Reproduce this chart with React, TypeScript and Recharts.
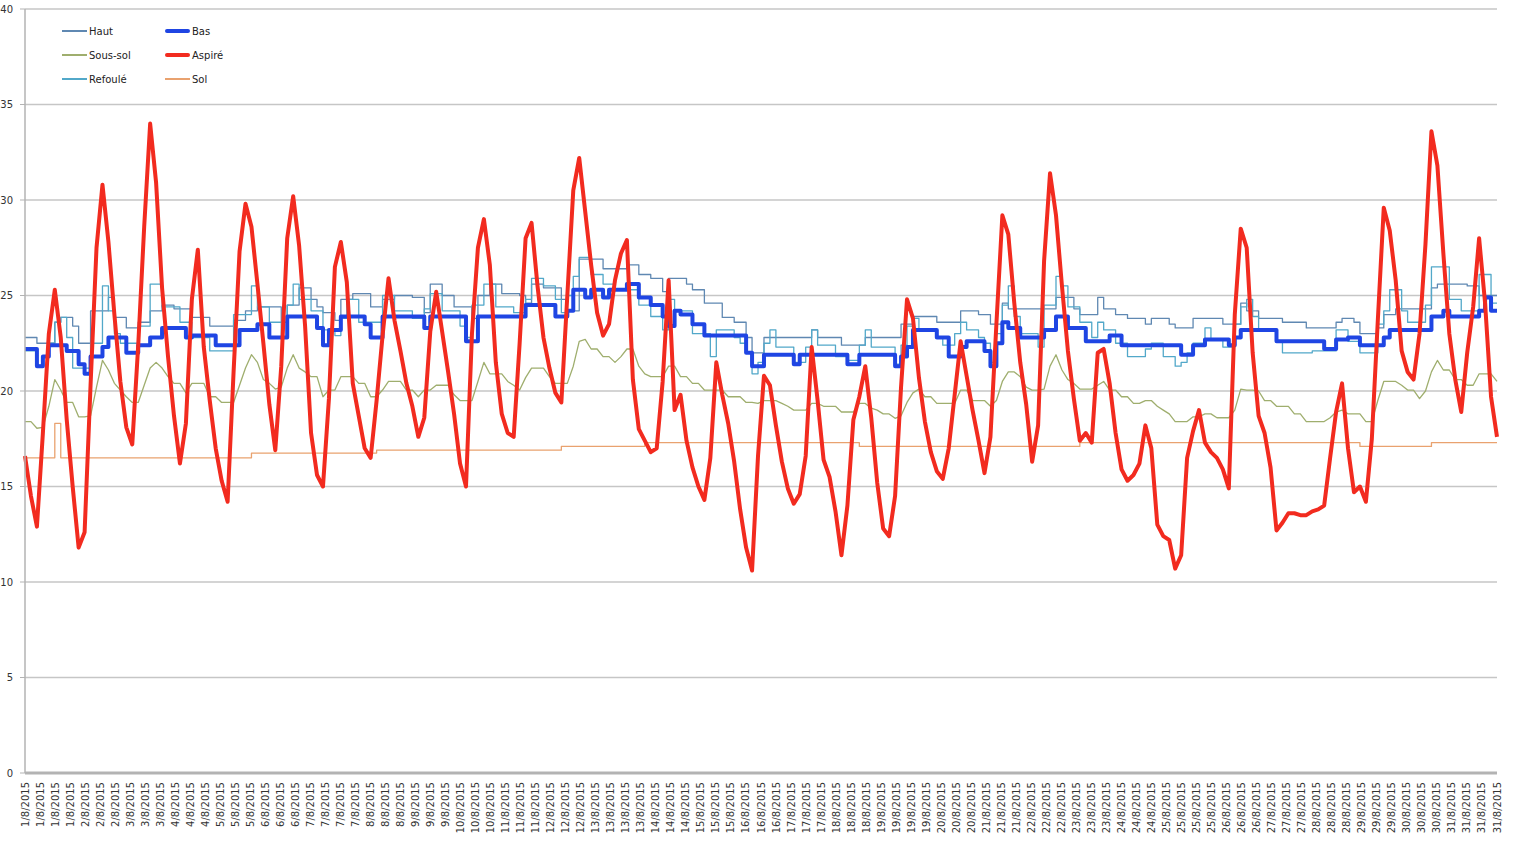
import React from 'react';
import { LineChart, Line, XAxis, YAxis, CartesianGrid } from 'recharts';

// relevés toutes les 3 heures, 1/8 -> 31/8 (8 valeurs par jour, une ligne = un jour)
const haut = [
  22.8, 22.8, 22.5, 22.5, 22.5, 23.6, 23.85, 23.85,
  23.4, 22.5, 22.5, 24.2, 24.2, 24.2, 24.9, 23.85,
  23.85, 23.3, 23.3, 23.6, 23.6, 24.2, 24.2, 24.5,
  24.5, 24.3, 24.3, 24.3, 23.85, 23.85, 23.85, 23.4,
  23.4, 23.4, 23.4, 23.7, 23.7, 24.2, 24.2, 24.4,
  24.4, 24.4, 24.4, 23.6, 24.5, 24.5, 25.4, 25.4,
  24.8, 24.4, 24.1, 24.1, 23.7, 24.8, 24.8, 25.1,
  25.1, 25.1, 24.4, 24.4, 24.8, 24.8, 25.0, 25.0,
  25.0, 24.9, 24.9, 24.1, 25.6, 25.6, 25.0, 25.0,
  24.4, 24.4, 24.4, 23.8, 25.0, 25.0, 25.6, 25.6,
  25.1, 25.1, 25.1, 25.0, 24.6, 25.6, 25.6, 25.4,
  25.4, 25.4, 24.8, 24.2, 24.2, 26.9, 26.9, 26.9,
  26.9, 26.4, 26.4, 26.4, 26.4, 26.6, 26.6, 26.1,
  26.1, 25.9, 25.9, 25.2, 25.9, 25.9, 25.9, 25.6,
  25.3, 25.3, 24.6, 24.6, 24.6, 23.85, 23.85, 23.6,
  23.6, 22.8, 22.0, 22.0, 22.8, 22.8, 22.8, 22.8,
  22.8, 22.8, 22.8, 22.8, 23.2, 22.8, 22.8, 22.8,
  22.8, 22.4, 22.4, 22.4, 22.4, 22.8, 22.8, 22.8,
  22.8, 22.8, 22.8, 23.5, 23.5, 23.9, 23.9, 23.9,
  23.9, 23.6, 23.6, 23.6, 23.6, 24.2, 24.2, 24.2,
  24.0, 24.0, 23.5, 23.5, 24.6, 24.3, 24.3, 24.3,
  24.3, 24.3, 24.3, 24.3, 24.3, 24.9, 24.9, 24.9,
  24.3, 24.0, 24.0, 24.0, 24.9, 24.3, 24.3, 24.0,
  24.0, 23.8, 23.8, 23.8, 23.5, 23.8, 23.8, 23.8,
  23.5, 23.3, 23.3, 23.3, 23.8, 23.8, 23.8, 23.8,
  23.8, 23.5, 23.5, 23.5, 24.6, 24.2, 24.2, 23.8,
  23.8, 23.8, 23.8, 23.6, 23.6, 23.6, 23.6, 23.3,
  23.3, 23.3, 23.3, 23.3, 23.6, 23.8, 23.8, 23.6,
  23.0, 23.0, 23.0, 23.3, 24.0, 24.0, 24.3, 24.3,
  24.3, 24.3, 24.3, 24.3, 25.4, 25.6, 25.6, 25.6,
  25.6, 25.6, 25.5, 25.5, 25.0, 25.0, 25.0, 25.0,
];

const bas = [
  22.2, 22.2, 21.3, 21.8, 22.4, 22.4, 22.4, 22.1,
  22.1, 21.4, 20.9, 21.8, 21.8, 22.3, 22.8, 22.8,
  22.8, 22.0, 22.0, 22.4, 22.4, 22.8, 22.8, 23.3,
  23.3, 23.3, 23.3, 22.8, 22.9, 22.9, 22.9, 22.9,
  22.4, 22.4, 22.4, 22.4, 23.2, 23.2, 23.2, 23.5,
  23.5, 22.8, 22.8, 22.8, 23.9, 23.9, 23.9, 23.9,
  23.9, 23.3, 22.4, 23.2, 23.2, 23.9, 23.9, 23.9,
  23.9, 23.5, 22.8, 22.8, 23.9, 23.9, 23.9, 23.9,
  23.9, 23.9, 23.9, 23.3, 23.9, 23.9, 23.9, 23.9,
  23.9, 23.9, 22.6, 22.6, 23.9, 23.9, 23.9, 23.9,
  23.9, 23.9, 23.9, 23.9, 24.5, 24.5, 24.5, 24.5,
  24.5, 23.9, 23.9, 24.2, 25.3, 25.3, 24.9, 25.3,
  25.3, 24.9, 25.3, 25.3, 25.3, 25.6, 25.6, 24.9,
  24.9, 24.5, 24.5, 23.9, 23.4, 24.2, 24.0, 24.0,
  23.5, 23.5, 22.9, 22.9, 22.9, 22.9, 22.9, 22.9,
  22.9, 22.0, 21.3, 21.3, 21.9, 21.9, 21.9, 21.9,
  21.9, 21.4, 21.9, 21.9, 21.9, 21.9, 21.9, 21.9,
  21.9, 21.9, 21.4, 21.4, 21.9, 21.9, 21.9, 21.9,
  21.9, 21.9, 21.3, 21.8, 22.3, 23.2, 23.2, 23.2,
  23.2, 22.8, 22.8, 21.8, 21.8, 22.3, 22.6, 22.6,
  22.6, 22.1, 21.3, 22.5, 23.6, 23.3, 23.3, 22.8,
  22.8, 22.8, 22.8, 23.2, 23.2, 23.9, 23.9, 23.3,
  23.3, 23.3, 22.6, 22.6, 22.6, 22.6, 22.9, 22.9,
  22.4, 22.4, 22.4, 22.4, 22.4, 22.4, 22.4, 22.4,
  22.4, 22.4, 21.9, 21.9, 22.4, 22.4, 22.7, 22.7,
  22.7, 22.7, 22.4, 22.8, 23.2, 23.2, 23.2, 23.2,
  23.2, 23.2, 22.6, 22.6, 22.6, 22.6, 22.6, 22.6,
  22.6, 22.6, 22.2, 22.2, 22.7, 22.7, 22.8, 22.8,
  22.4, 22.4, 22.4, 22.4, 22.8, 23.2, 23.2, 23.2,
  23.2, 23.2, 23.2, 23.2, 23.9, 23.9, 24.2, 23.9,
  23.9, 23.9, 23.9, 23.9, 24.2, 24.9, 24.2, 24.2,
];

const sousSol = [
  18.4, 18.4, 18.05, 18.1, 19.2, 20.6, 20.05, 19.4,
  19.4, 18.65, 18.65, 18.7, 20.2, 21.6, 21.1, 20.4,
  20.05, 19.7, 19.4, 19.4, 20.3, 21.2, 21.5, 21.2,
  20.75, 20.4, 20.4, 19.9, 20.4, 20.4, 20.4, 19.7,
  19.7, 19.4, 19.4, 19.4, 20.3, 21.2, 21.9, 21.5,
  20.6, 20.4, 20.1, 20.2, 21.2, 21.9, 21.2, 21.0,
  20.75, 20.75, 19.7, 20.05, 20.05, 20.75, 20.75, 20.75,
  20.4, 20.4, 19.7, 19.7, 20.05, 20.5, 20.5, 20.5,
  20.05, 20.05, 19.7, 20.05, 20.05, 20.3, 20.3, 20.3,
  19.8, 19.5, 19.5, 19.5, 20.5, 21.5, 20.9, 20.9,
  20.9, 20.5, 20.3, 20.05, 20.7, 21.2, 21.2, 21.2,
  20.75, 20.4, 20.4, 20.4, 21.3, 22.6, 22.7, 22.2,
  22.2, 21.8, 21.8, 21.5, 21.8, 22.2, 22.2, 21.3,
  20.9, 20.75, 20.75, 20.75, 21.3, 21.3, 20.75, 20.75,
  20.4, 20.4, 20.05, 20.05, 20.05, 20.05, 19.7, 19.7,
  19.7, 19.4, 19.4, 19.35, 19.5, 19.5, 19.5, 19.35,
  19.2, 19.0, 19.0, 19.0, 19.35, 19.35, 19.2, 19.2,
  19.2, 18.9, 18.9, 18.9, 19.35, 19.35, 19.1, 19.0,
  18.8, 18.8, 18.57, 18.7, 19.4, 19.9, 20.1, 19.7,
  19.7, 19.35, 19.35, 19.35, 19.35, 20.05, 20.05, 19.5,
  19.5, 19.5, 19.2, 19.5, 20.5, 21.0, 21.0, 20.75,
  20.2, 20.05, 20.05, 20.1, 21.3, 21.9, 21.1, 20.6,
  20.4, 20.1, 20.1, 20.1, 20.3, 20.5, 20.05, 20.05,
  19.7, 19.7, 19.35, 19.35, 19.5, 19.5, 19.2, 19.0,
  18.8, 18.4, 18.4, 18.4, 18.65, 18.65, 18.8, 18.8,
  18.6, 18.6, 18.6, 19.0, 20.1, 20.05, 20.05, 20.0,
  19.5, 19.5, 19.2, 19.2, 19.2, 18.8, 18.8, 18.4,
  18.4, 18.4, 18.4, 18.6, 18.9, 19.0, 18.8, 18.8,
  18.8, 18.4, 18.4, 19.5, 20.5, 20.5, 20.5, 20.3,
  20.05, 20.05, 19.6, 20.0, 21.0, 21.6, 21.1, 21.1,
  20.6, 20.6, 20.3, 20.3, 20.9, 20.9, 20.9, 20.5,
];

const aspire = [
  16.6, 14.5, 12.9, 17.8, 23.0, 25.3, 22.8, 18.5,
  15.0, 11.8, 12.6, 20.3, 27.5, 30.8, 27.8, 24.0,
  20.5, 18.1, 17.2, 22.4, 28.6, 34.0, 30.9, 25.4,
  21.8, 18.7, 16.2, 18.3, 24.8, 27.4, 22.3, 19.5,
  17.0, 15.3, 14.2, 21.0, 27.3, 29.8, 28.6, 25.6,
  22.5, 19.3, 16.9, 21.3, 28.0, 30.2, 27.6, 23.4,
  17.8, 15.6, 15.0, 19.6, 26.5, 27.8, 25.7, 20.4,
  18.7, 17.0, 16.5, 19.5, 22.9, 25.9, 23.7, 22.1,
  20.4, 19.2, 17.6, 18.6, 23.1, 25.2, 23.1, 21.0,
  18.8, 16.2, 15.0, 23.0, 27.5, 29.0, 26.6, 21.5,
  18.8, 17.8, 17.6, 22.5, 28.0, 28.8, 25.5, 22.8,
  21.2, 19.9, 19.4, 25.0, 30.5, 32.2, 29.4, 26.6,
  24.1, 22.9, 23.5, 25.8, 27.2, 27.9, 20.6, 18.0,
  17.4, 16.8, 17.0, 20.5, 25.8, 19.0, 19.8, 17.4,
  16.0, 15.0, 14.3, 16.5, 21.5, 19.8, 18.3, 16.3,
  13.8, 11.8, 10.6, 16.6, 20.8, 20.3, 18.2, 16.3,
  14.9, 14.1, 14.6, 16.6, 22.3, 19.5, 16.4, 15.5,
  13.7, 11.4, 14.0, 18.5, 19.7, 21.3, 18.6, 15.2,
  12.8, 12.4, 14.5, 20.2, 24.8, 23.8, 20.7, 18.4,
  16.8, 15.8, 15.4, 17.0, 19.8, 22.6, 20.8, 19.0,
  17.4, 15.7, 17.6, 23.5, 29.2, 28.2, 24.6, 21.5,
  19.3, 16.3, 18.2, 26.8, 31.4, 29.2, 25.5, 22.1,
  19.6, 17.4, 17.8, 17.3, 22.0, 22.2, 20.4, 17.8,
  15.9, 15.3, 15.6, 16.2, 18.2, 17.0, 13.0, 12.4,
  12.2, 10.7, 11.4, 16.5, 17.9, 19.0, 17.3, 16.8,
  16.5, 15.9, 14.9, 24.0, 28.5, 27.5, 22.0, 18.7,
  17.8, 16.0, 12.7, 13.1, 13.6, 13.6, 13.5, 13.5,
  13.7, 13.8, 14.0, 16.5, 18.9, 20.4, 17.0, 14.7,
  15.0, 14.2, 17.5, 23.7, 29.6, 28.4, 25.8, 22.1,
  21.0, 20.6, 23.0, 27.7, 33.6, 31.8, 27.2, 23.0,
  20.6, 18.9, 22.0, 24.4, 28.0, 24.6, 19.7, 17.6,
];

const refoule = [
  22.1, 22.1, 21.35, 21.8, 22.5, 23.6, 23.85, 22.8,
  21.2, 21.2, 21.2, 22.5, 22.5, 25.5, 24.2, 23.0,
  22.5, 22.5, 22.5, 23.4, 23.4, 25.6, 25.6, 24.4,
  24.4, 24.4, 23.6, 23.6, 22.8, 22.8, 22.8, 22.1,
  22.1, 22.1, 22.1, 24.0, 24.0, 24.0, 25.5, 24.4,
  24.4, 23.6, 23.6, 22.8, 24.5, 25.6, 24.8, 24.8,
  24.2, 24.2, 23.2, 23.2, 22.9, 23.8, 24.8, 24.8,
  23.6, 23.6, 23.6, 23.6, 25.0, 25.0, 24.2, 24.2,
  24.2, 23.8, 23.8, 24.3, 25.1, 25.1, 24.2, 24.2,
  24.2, 23.4, 22.8, 24.5, 24.5, 25.6, 25.6, 24.4,
  24.4, 24.4, 24.1, 24.1, 24.8, 25.9, 25.9, 25.5,
  25.5, 24.8, 24.1, 25.0, 26.0, 27.0, 27.0, 26.1,
  26.1, 25.6, 25.6, 25.3, 25.3, 25.3, 25.3, 24.5,
  24.5, 23.9, 23.9, 23.2, 24.8, 24.2, 24.2, 24.2,
  23.0, 23.0, 23.0, 21.8, 23.2, 23.2, 23.2, 22.8,
  22.5, 22.0, 20.9, 21.5, 22.5, 23.2, 22.3, 22.3,
  22.3, 21.5, 21.5, 22.3, 23.2, 22.4, 22.4, 22.4,
  21.8, 21.8, 21.6, 21.6, 22.4, 23.2, 22.3, 22.3,
  22.3, 22.3, 21.4, 22.4, 23.4, 23.8, 23.2, 23.2,
  23.2, 22.8, 22.4, 22.4, 23.0, 23.6, 23.2, 23.2,
  22.8, 22.5, 21.5, 23.0, 24.5, 25.5, 23.9, 23.0,
  23.0, 23.0, 22.3, 24.5, 24.5, 26.0, 25.5, 24.4,
  24.4, 23.6, 23.6, 22.8, 23.6, 23.2, 23.2, 22.5,
  22.5, 21.8, 21.8, 21.8, 22.2, 22.5, 22.5, 21.8,
  21.8, 21.3, 21.5, 22.0, 22.5, 22.5, 23.3, 22.7,
  22.7, 22.3, 22.3, 23.5, 24.4, 24.8, 23.9, 23.2,
  23.2, 23.2, 22.6, 22.0, 22.0, 22.0, 22.0, 22.0,
  22.1, 22.1, 22.1, 22.1, 23.2, 23.2, 22.6, 22.6,
  22.0, 22.0, 22.0, 23.5, 24.2, 25.3, 25.3, 24.2,
  23.6, 23.6, 23.6, 24.5, 26.5, 26.5, 26.5, 24.8,
  24.8, 24.2, 24.2, 24.2, 26.1, 26.1, 24.6, 24.6,
];

const sol = [
  16.5, 16.5, 16.5, 16.5, 16.5, 18.3, 16.5, 16.5,
  16.5, 16.5, 16.5, 16.5, 16.5, 16.5, 16.5, 16.5,
  16.5, 16.5, 16.5, 16.5, 16.5, 16.5, 16.5, 16.5,
  16.5, 16.5, 16.5, 16.5, 16.5, 16.5, 16.5, 16.5,
  16.5, 16.5, 16.5, 16.5, 16.5, 16.5, 16.75, 16.75,
  16.75, 16.75, 16.75, 16.75, 16.75, 16.75, 16.75, 16.75,
  16.75, 16.75, 16.75, 16.75, 16.75, 16.75, 16.75, 16.75,
  16.75, 16.75, 16.75, 16.9, 16.9, 16.9, 16.9, 16.9,
  16.9, 16.9, 16.9, 16.9, 16.9, 16.9, 16.9, 16.9,
  16.9, 16.9, 16.9, 16.9, 16.9, 16.9, 16.9, 16.9,
  16.9, 16.9, 16.9, 16.9, 16.9, 16.9, 16.9, 16.9,
  16.9, 16.9, 17.1, 17.1, 17.1, 17.1, 17.1, 17.1,
  17.1, 17.1, 17.1, 17.1, 17.1, 17.1, 17.1, 17.1,
  17.3, 17.3, 17.3, 17.3, 17.3, 17.3, 17.3, 17.3,
  17.3, 17.3, 17.3, 17.3, 17.3, 17.3, 17.3, 17.3,
  17.3, 17.3, 17.3, 17.3, 17.3, 17.3, 17.3, 17.3,
  17.3, 17.3, 17.3, 17.3, 17.3, 17.3, 17.3, 17.3,
  17.3, 17.3, 17.3, 17.3, 17.1, 17.1, 17.1, 17.1,
  17.1, 17.1, 17.1, 17.1, 17.1, 17.1, 17.1, 17.1,
  17.1, 17.1, 17.1, 17.1, 17.1, 17.1, 17.1, 17.1,
  17.1, 17.1, 17.1, 17.1, 17.1, 17.1, 17.1, 17.1,
  17.1, 17.1, 17.1, 17.1, 17.1, 17.1, 17.1, 17.1,
  17.1, 17.3, 17.3, 17.3, 17.3, 17.3, 17.3, 17.3,
  17.3, 17.3, 17.3, 17.3, 17.3, 17.3, 17.3, 17.3,
  17.3, 17.3, 17.3, 17.3, 17.3, 17.3, 17.3, 17.3,
  17.3, 17.3, 17.3, 17.3, 17.3, 17.3, 17.3, 17.3,
  17.3, 17.3, 17.3, 17.3, 17.3, 17.3, 17.3, 17.3,
  17.3, 17.3, 17.3, 17.3, 17.3, 17.3, 17.3, 17.3,
  17.1, 17.1, 17.1, 17.1, 17.1, 17.1, 17.1, 17.1,
  17.1, 17.1, 17.1, 17.1, 17.3, 17.3, 17.3, 17.3,
  17.3, 17.3, 17.3, 17.3, 17.3, 17.3, 17.3, 17.3,
];

// jour affiché par chaque étiquette de l'axe (99 étiquettes)
const labelDays = [
  1, 1, 1, 1, 2, 2, 2, 3, 3, 3, 4, 4, 4, 5, 5, 5, 6, 6, 6,
  7, 7, 7, 7, 8, 8, 8, 9, 9, 9, 10, 10, 10, 11, 11, 11, 12, 12, 12,
  13, 13, 13, 13, 14, 14, 14, 15, 15, 15, 16, 16, 16, 17, 17, 17, 18, 18, 18,
  19, 19, 19, 19, 20, 20, 20, 21, 21, 21, 22, 22, 22, 23, 23, 23, 24, 24, 24,
  25, 25, 25, 25, 26, 26, 26, 27, 27, 27, 28, 28, 28, 29, 29, 29, 30, 30, 30,
  31, 31, 31, 31,
];
const tickLabels = labelDays.map((d) => `${d}/8/2015`);
const yTicks = [0, 5, 10, 15, 20, 25, 30, 35, 40];

const lastIndex = aspire.length - 1;
const xTicks = tickLabels.map((_, k) => (k * lastIndex) / (tickLabels.length - 1));

const data = aspire.map((v, i) => ({
  i,
  haut: haut[i],
  bas: bas[i],
  sousSol: sousSol[i],
  aspire: v,
  refoule: refoule[i],
  sol: sol[i],
}));

const FONT = 'DejaVu Sans';

const series = [
  { key: 'haut', name: 'Haut', color: '#5f88b2', width: 1.3 },
  { key: 'bas', name: 'Bas', color: '#1f45e3', width: 4 },
  { key: 'sousSol', name: 'Sous-sol', color: '#9fae6e', width: 1.3 },
  { key: 'aspire', name: 'Aspiré', color: '#f22b1f', width: 4 },
  { key: 'refoule', name: 'Refoulé', color: '#52a8c9', width: 1.3 },
  { key: 'sol', name: 'Sol', color: '#e9a26f', width: 1.3 },
];
const byKey = (k: string) => series.find((s) => s.key === k)!;

const renderXTick = (props: any) => {
  const { x, y, index } = props;
  return (
    <text
      x={x}
      y={y}
      dy="0.35em"
      textAnchor="end"
      transform={`rotate(-90, ${x}, ${y})`}
      fontSize={10}
      fontFamily={FONT}
      fill="#333"
    >
      {tickLabels[index]}
    </text>
  );
};

const ChartLegend = () => (
  <div
    style={{
      position: 'absolute',
      left: 62,
      top: 19,
      display: 'grid',
      gridTemplateColumns: '103px 103px',
      fontFamily: FONT,
      fontSize: 10,
      color: '#222',
    }}
  >
    {series.map((s) => (
      <div key={s.key} style={{ display: 'flex', alignItems: 'center', height: 24 }}>
        <div
          style={{
            width: 25,
            height: s.width,
            background: s.color,
            borderRadius: s.width > 2 ? 2 : 0,
          }}
        />
        <span style={{ marginLeft: 2 }}>{s.name}</span>
      </div>
    ))}
  </div>
);

const App: React.FC = () => {
  const drawOrder = ['sol', 'sousSol', 'haut', 'refoule', 'bas', 'aspire'];
  return (
    <div style={{ position: 'absolute', left: 0, top: 0, width: 1515, height: 844, background: '#fff' }}>
      <LineChart width={1515} height={844} data={data} margin={{ top: 9, right: 18, bottom: 0, left: 0 }}>
        <CartesianGrid vertical={false} stroke="#c6c6c6" strokeWidth={1.3} />
        <XAxis
          dataKey="i"
          type="number"
          domain={[0, lastIndex]}
          ticks={xTicks}
          interval={0}
          height={71}
          tickLine={false}
          tickMargin={3}
          axisLine={{ stroke: '#b3b3b3', strokeWidth: 3 }}
          tick={renderXTick}
        />
        <YAxis
          domain={[0, 40]}
          ticks={yTicks}
          interval={0}
          width={25}
          tickSize={5}
          tickMargin={7}
          axisLine={{ stroke: '#b3b3b3', strokeWidth: 1.5 }}
          tickLine={{ stroke: '#b3b3b3' }}
          tick={{ fontSize: 10, fill: '#333', fontFamily: FONT }}
        />
        {drawOrder.map((k) => {
          const s = byKey(k);
          return (
            <Line
              key={k}
              dataKey={k}
              name={s.name}
              type={k === 'aspire' || k === 'sousSol' ? 'linear' : 'stepAfter'}
              stroke={s.color}
              strokeWidth={s.width}
              strokeLinejoin="round"
              dot={false}
              activeDot={false}
              isAnimationActive={false}
            />
          );
        })}
      </LineChart>
      <ChartLegend />
    </div>
  );
};

export default App;
